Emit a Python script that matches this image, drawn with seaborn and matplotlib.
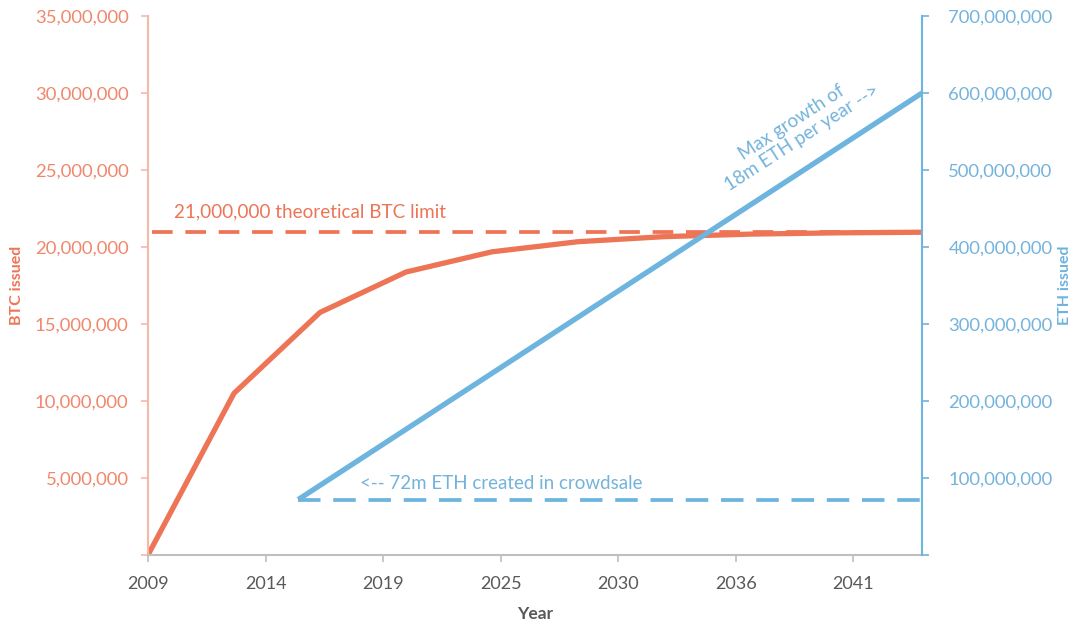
import numpy as np
import pandas as pd
import matplotlib
matplotlib.use("Agg")
import matplotlib.pyplot as plt
import seaborn as sns
from matplotlib.ticker import FuncFormatter

# ---- data ----
btc_years = [2009.0, 2012.95, 2016.9, 2020.85, 2024.8, 2028.75, 2032.7, 2036.65, 2040.6, 2044.55]
btc_issued = [0, 10500000, 15750000, 18375000, 19687500, 20343750, 20671875, 20835938, 20917969, 20958984]
eth_years = [2015.9, 2044.55]
eth_issued = [72000000, 600000000]
btc_limit = 21000000
eth_crowdsale = 72000000
xtick_pos = [2009.0, 2014.4, 2019.8, 2025.2, 2030.6, 2036.0, 2041.4]
xtick_labels = ["2009", "2014", "2019", "2025", "2030", "2036", "2041"]
btc_ticks = [0, 5000000, 10000000, 15000000, 20000000, 25000000, 30000000, 35000000]
eth_ticks = [0, 100000000, 200000000, 300000000, 400000000, 500000000, 600000000, 700000000]

ORANGE = "#EE7456"
ORANGE_T = "#F0876C"
ORANGE_SP = "#F6B9A8"
BLUE = "#6DB4DF"
BLUE_T = "#74B3DC"
GRAY = "#BFBFBF"
DARK = "#595959"

sns.set_style("white")
plt.rcParams["font.family"] = ["Lato", "DejaVu Sans"]

fig = plt.figure(figsize=(10.79, 6.26), dpi=100)
ax = fig.add_axes([148/1079, 1-555/626, (922-148)/1079, (555-16)/626])
ax2 = ax.twinx()

btc_df = pd.DataFrame({"year": btc_years, "btc": btc_issued})
eth_df = pd.DataFrame({"year": eth_years, "eth": eth_issued})

sns.lineplot(data=btc_df, x="year", y="btc", ax=ax, color=ORANGE, lw=3.8,
             solid_capstyle="butt", solid_joinstyle="round")
ax.axhline(btc_limit, xmin=0.005, xmax=1, color=ORANGE, lw=2.7, dashes=(5.5, 3.4))

sns.lineplot(data=eth_df, x="year", y="eth", ax=ax2, color=BLUE, lw=3.8,
             solid_capstyle="butt")
ax2.hlines(eth_crowdsale, eth_years[0], btc_years[-1], color=BLUE, lw=2.7,
           linestyles=(0, (6, 3.4)))

ax.set_xlim(btc_years[0], btc_years[-1])
ax.set_ylim(0, 35000000)
ax2.set_ylim(0, 700000000)

ax.set_xticks(xtick_pos)
ax.set_xticklabels(xtick_labels)
ax.set_yticks(btc_ticks)
ax2.set_yticks(eth_ticks)
fmt = FuncFormatter(lambda v, p: "" if v == 0 else f"{int(v):,}")
ax.yaxis.set_major_formatter(fmt)
ax2.yaxis.set_major_formatter(fmt)

for a in (ax, ax2):
    for s in a.spines.values():
        s.set_visible(False)
ax.spines["left"].set_visible(True)
ax.spines["left"].set_color(ORANGE_SP)
ax.spines["left"].set_linewidth(1.5)
ax.spines["bottom"].set_visible(True)
ax.spines["bottom"].set_color(GRAY)
ax.spines["bottom"].set_linewidth(1.5)
ax2.spines["right"].set_visible(True)
ax2.spines["right"].set_color(BLUE)
ax2.spines["right"].set_linewidth(1.5)

ax.tick_params(axis="y", colors=ORANGE_SP, labelcolor=ORANGE_T, labelsize=13.3,
               length=5, width=1.2, pad=9, left=True, direction="out")
ax2.tick_params(axis="y", colors=BLUE, labelcolor=BLUE_T, labelsize=13.3,
                length=5, width=1.2, pad=14, right=True, direction="out")
ax.tick_params(axis="x", colors=GRAY, labelcolor=DARK, labelsize=13,
               length=5, width=1.2, pad=10, bottom=True, direction="out")

ax.set_xlabel("Year", fontsize=12.5, fontweight="bold", color=DARK, labelpad=10)
ax.set_ylabel("BTC issued", fontsize=11.5, fontweight="bold", color=ORANGE, labelpad=8)
ax2.set_ylabel("ETH issued", fontsize=11.5, fontweight="bold", color=BLUE, rotation=90,
               labelpad=4)
ax.grid(False)
ax2.grid(False)

ax.text(2010.2, 21700000, "21,000,000 theoretical BTC limit", color=ORANGE,
        fontsize=13.6, ha="left", va="bottom")
ax2.text(2018.75, 82000000, "<-- 72m ETH created in crowdsale", color=BLUE_T,
         fontsize=13.5, ha="left", va="bottom")
ax2.text(2038.8, 552000000, "Max growth of\n18m ETH per year -->", color=BLUE_T,
         fontsize=13.5, ha="center", va="center", rotation=33,
         rotation_mode="anchor", linespacing=1.1)

fig.savefig("out.png", dpi=100)
